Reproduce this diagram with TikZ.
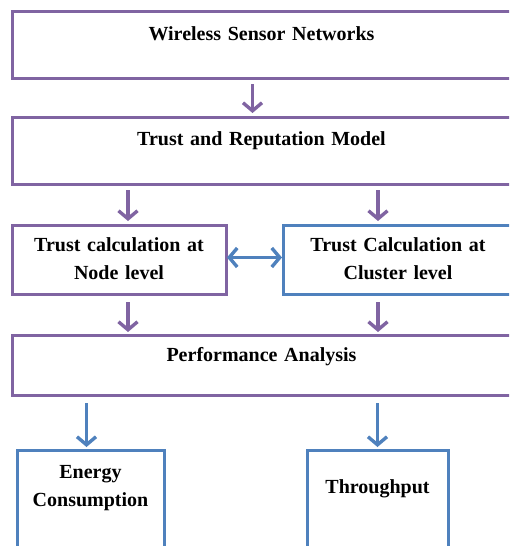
\documentclass[tikz,border=0pt]{standalone}
\usepackage{fontspec}
\setmainfont{Liberation Serif}
\usetikzlibrary{positioning,arrows.meta}

\definecolor{wsnpurple}{RGB}{128,100,162}
\definecolor{wsnblue}{RGB}{79,129,189}

\tikzset{
  stage/.style={draw=wsnpurple, line width=3pt, inner sep=0pt, outer sep=0pt,
    align=center, font=\bfseries\fontsize{20}{28}\selectfont},
  wide/.style={stage, text width=499pt},
  flow/.style={->, draw=wsnpurple, line width=3.4pt, shorten <=6pt, shorten >=4pt},
  bflow/.style={flow, draw=wsnblue}
}

\begin{document}
\begin{tikzpicture}[x=1pt, y=1pt, >={Straight Barb[length=8pt,width=19pt]}]
  \path[use as bounding box, clip] (0,0) rectangle (509,-546);

  % main stack
  \node[wide, text height=29pt, text depth=38pt, anchor=north west] (wsn) at (12,-11) {Wireless Sensor Networks};
  \node[wide, text height=28pt, text depth=39pt, below=39pt of wsn] (trm) {Trust and Reputation Model};
  \node[stage, text width=214pt, text height=26pt, text depth=43pt,
        below=41pt of trm.south west, anchor=north west] (nodecalc) {Trust calculation at\\Node level};
  \node[stage, draw=wsnblue, text width=230pt, text height=26pt, text depth=43pt,
        right=57pt of nodecalc] (clustercalc) {Trust Calculation at\\Cluster level};
  \node[wide, text height=26pt, text depth=34pt,
        below=41pt of nodecalc.south west, anchor=north west] (perf) {Performance Analysis};

  % results
  \node[stage, draw=wsnblue, text width=147pt, text height=28pt, text depth=90pt,
        below=55pt of perf.south west, anchor=north west, xshift=5pt] (energy) {Energy\\Consumption};
  \node[stage, draw=wsnblue, text width=141pt, text height=43pt, text depth=75pt,
        right=143pt of energy] (tput) {Throughput};

  \draw[flow] ([xshift=-9pt]wsn.south) -- ([xshift=-9pt]trm.north);
  \draw[flow] ([xshift=9pt]nodecalc.north |- trm.south) -- ([xshift=9pt]nodecalc.north);
  \draw[flow] ([xshift=-20pt]clustercalc.north |- trm.south) -- ([xshift=-20pt]clustercalc.north);
  \draw[flow, shorten <=8pt, shorten >=3pt] ([xshift=9pt]nodecalc.south) -- ([xshift=9pt]nodecalc.south |- perf.north);
  \draw[flow, shorten <=8pt, shorten >=3pt] ([xshift=-20pt]clustercalc.south) -- ([xshift=-20pt]clustercalc.south |- perf.north);
  \draw[bflow, <->, shorten <=1pt, shorten >=1pt] ([yshift=2pt]nodecalc.east) -- ([yshift=2pt]clustercalc.west);
  \draw[bflow, shorten <=8pt, shorten >=3pt] ([xshift=-4pt]energy.north |- perf.south) -- ([xshift=-4pt]energy.north);
  \draw[bflow, shorten <=8pt, shorten >=3pt] (tput.north |- perf.south) -- (tput.north);
\end{tikzpicture}
\end{document}
